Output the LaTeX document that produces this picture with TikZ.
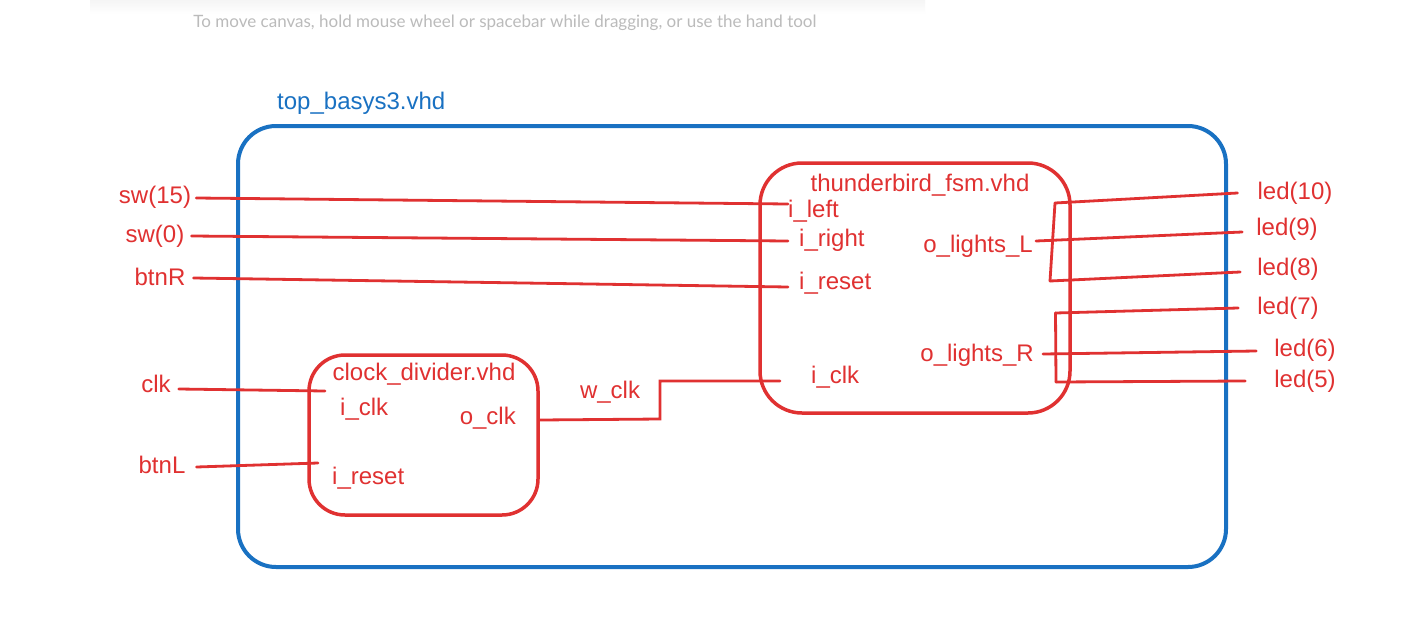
\documentclass[tikz,border=0pt]{standalone}
\usepackage{fontspec}
\setmainfont{Liberation Sans}
\newfontfamily\hintfont{Lato}
\usetikzlibrary{positioning}
\definecolor{xred}{HTML}{E03131}
\definecolor{xblue}{HTML}{1971C2}
\definecolor{hintgray}{HTML}{BBBBBB}

\begin{document}
\begin{tikzpicture}[x=1pt,y=-1pt,
  lbl/.style={text=xred,font=\fontsize{24}{28}\selectfont,inner sep=0pt},
  wire/.style={draw=xred,line width=2.8pt,line cap=round},
  box/.style={draw=xred,line width=3.5pt,rounded corners=42pt}]
  \fill[white] (0,0) rectangle (1402,640);
  \useasboundingbox (0,0) rectangle (1402,640);
  \shade[top color=black!4,bottom color=white] (90,0) rectangle (925,14);
  \node[text=hintgray,font=\hintfont\fontsize{17}{19}\selectfont,inner sep=0pt] (hint) at (505,23)
    {To move canvas, hold mouse wheel or spacebar while dragging, or use the hand tool};

  % outer entity
  \draw[draw=xblue,line width=4pt,rounded corners=38pt] (238,126) rectangle (1226,567);
  \node[lbl,text=xblue,anchor=west] (top) at (277,103) {top\_basys3.vhd};

  % components
  \node[box,minimum width=310,minimum height=250] (fsm) at (915,288) {};
  \node[box,rounded corners=36pt,minimum width=229,minimum height=160] (cdiv) at (423.5,435) {};
  \node[lbl] (fsmname) at (920,185) {thunderbird\_fsm.vhd};
  \node[lbl] (cdname)  at (424,374) {clock\_divider.vhd};

  % ports
  \node[lbl,anchor=west] (ileft)  at (788,211) {i\_left};
  \node[lbl,anchor=west] (iright) at (799,240) {i\_right};
  \node[lbl,anchor=west] (ireset) at (799,283) {i\_reset};
  \node[lbl,anchor=west] (iclk)   at (811,377) {i\_clk};
  \node[lbl,anchor=east] (oL)     at (1033,246) {o\_lights\_L};
  \node[lbl,anchor=east] (oR)     at (1034,355) {o\_lights\_R};
  \node[lbl,anchor=west] (cdclk)  at (340,409) {i\_clk};
  \node[lbl,anchor=west] (cdrst)  at (332,478) {i\_reset};
  \node[lbl,anchor=east] (oclk)   at (516,418) {o\_clk};
  \node[lbl] (wclk) at (610,392) {w\_clk};

  % board pins
  \node[lbl] (sw15) at (155,197) {sw(15)};
  \node[lbl] (sw0)  at (155,236) {sw(0)};
  \node[lbl] (btnR) at (160,277) {btnR};
  \node[lbl] (clk)  at (156,384) {clk};
  \node[lbl] (btnL) at (162,465) {btnL};
  \node[lbl] (led10) at (1295,193) {led(10)};
  \node[lbl] (led9)  at (1287,229) {led(9)};
  \node[lbl] (led8)  at (1288,269) {led(8)};
  \node[lbl] (led7)  at (1288,308) {led(7)};
  \node[lbl] (led6)  at (1305,350) {led(6)};
  \node[lbl] (led5)  at (1305,381) {led(5)};

  \coordinate (bLt) at (1055,203);
  \coordinate (bLb) at (1050,281);
  \coordinate (bRt) at (1055.5,313);
  \coordinate (bRb) at (1056,382);

  % wires
  \draw[wire] ([xshift=5pt,yshift=-1pt]sw15.east) -- ([yshift=7pt]ileft.west);
  \draw[wire] ([xshift=7pt]sw0.east) -- ([xshift=-11pt,yshift=-1pt]iright.west);
  \draw[wire] ([xshift=8pt,yshift=-1pt]btnR.east) -- ([xshift=-11pt,yshift=-4pt]ireset.west);
  \draw[wire] ([xshift=8pt,yshift=-5pt]clk.east) -- ([xshift=-15pt,yshift=18pt]cdclk.west);
  \draw[wire] ([xshift=11pt,yshift=-2pt]btnL.east) -- ([xshift=-14pt,yshift=15pt]cdrst.west);
  \draw[wire] ([xshift=24pt,yshift=-2pt]oclk.east) -- ++(120,-1) |- ([xshift=-31pt,yshift=-4pt]iclk.west);

  \draw[wire] (bLt) -- (bLb);
  \draw[wire] (bRt) -- (bRb);
  \draw[wire] (bLt) -- ([xshift=-20pt]led10.west);
  \draw[wire] ([xshift=3pt,yshift=5pt]oL.east) -- ([xshift=-14pt,yshift=-3pt]led9.west);
  \draw[wire] (bLb) -- ([xshift=-17pt,yshift=-3pt]led8.west);
  \draw[wire] (bRt) -- ([xshift=-19pt]led7.west);
  \draw[wire] ([xshift=9pt,yshift=1pt]oR.east) -- ([xshift=-18pt,yshift=-1pt]led6.west);
  \draw[wire] (bRb) -- ([xshift=-29pt]led5.west);
\end{tikzpicture}
\end{document}
